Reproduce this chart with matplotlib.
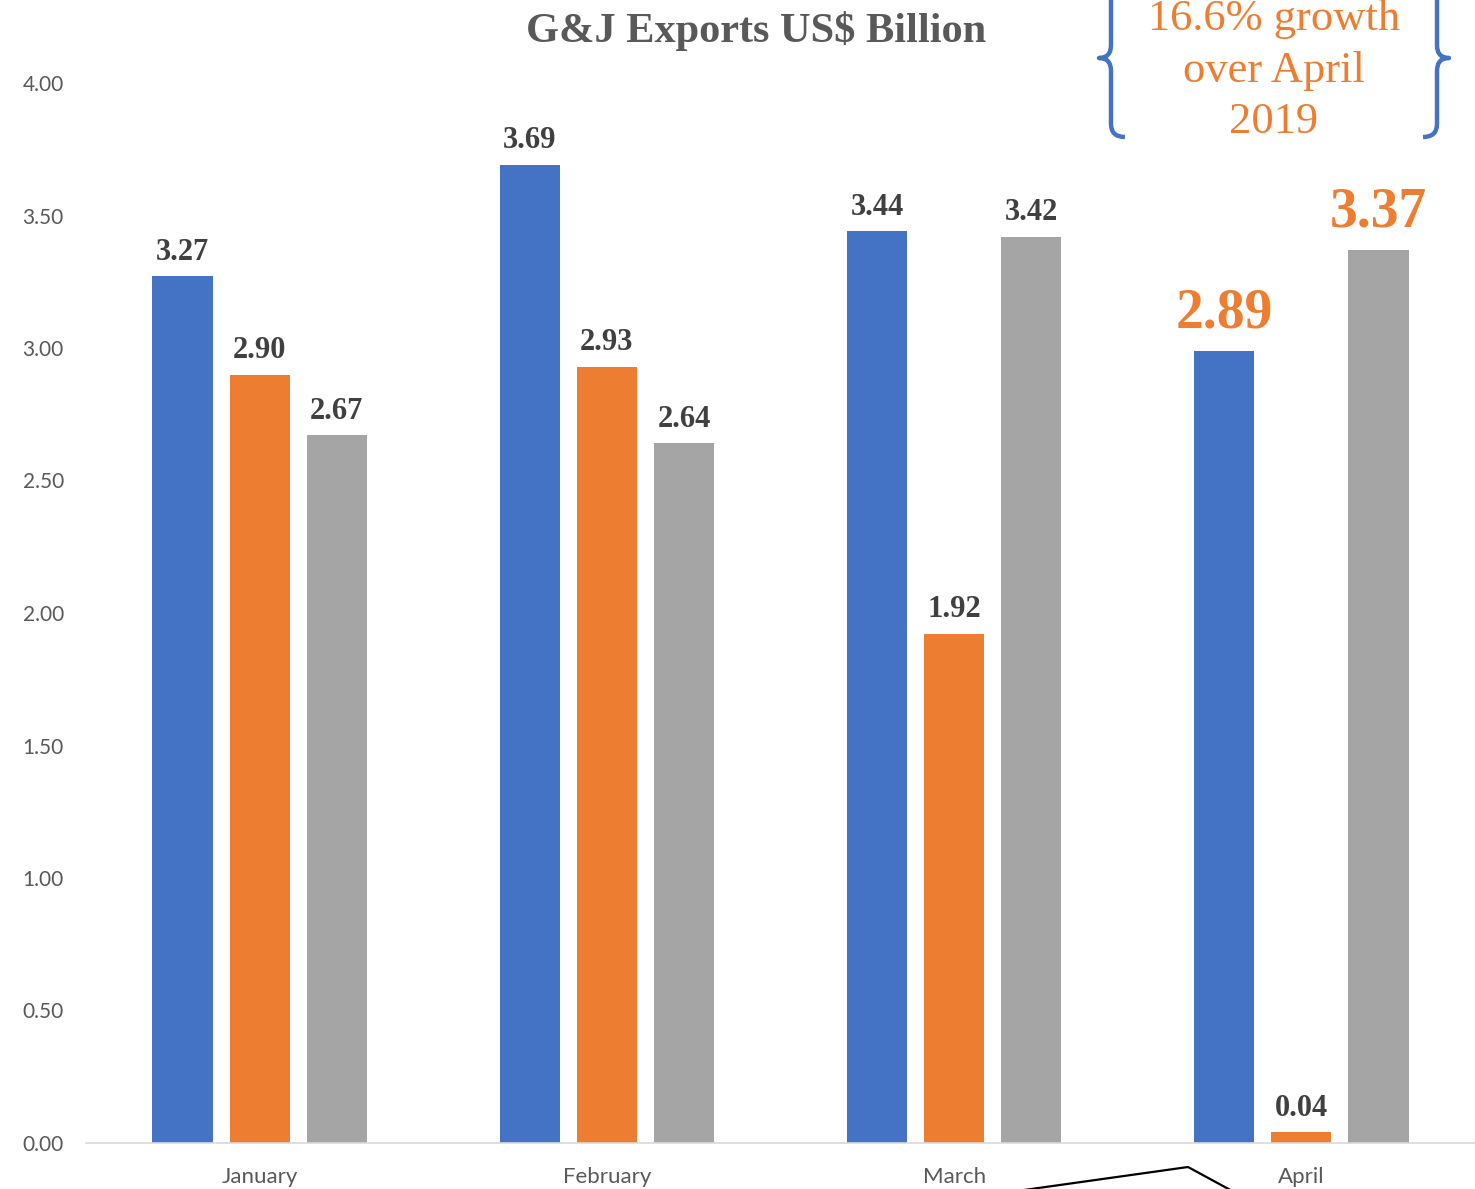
import numpy as np
import matplotlib
matplotlib.use("Agg")
import matplotlib.pyplot as plt
from matplotlib.path import Path
from matplotlib.patches import PathPatch

# data
months = ["January", "February", "March", "April"]
blue_vals = [3.27, 3.69, 3.44, 2.99]
orange_vals = [2.90, 2.93, 1.92, 0.04]
gray_vals = [2.67, 2.64, 3.42, 3.37]
blue_labels = ["3.27", "3.69", "3.44", "2.89"]
orange_labels = ["2.90", "2.93", "1.92", "0.04"]
gray_labels = ["2.67", "2.64", "3.42", "3.37"]
y_ticks = [0, 0.5, 1.0, 1.5, 2.0, 2.5, 3.0, 3.5, 4.0]
note_lines = ["16.6% growth", "over April", "2019"]

BLUE = "#4472C4"
ORANGE = "#ED7D31"
GRAY = "#A5A5A5"
LABEL = "#404040"
TICK = "#595959"
SERIF = "Liberation Serif"
SANS = "Lato"

W, H = 1475, 1189
fig = plt.figure(figsize=(W / 100, H / 100), dpi=100)
ax = fig.add_axes([86 / W, 1 - 1143 / H, (W - 86) / W, (1143 - 83) / H])

x = np.arange(len(months))
bw = 0.173
step = 0.222
series = [(blue_vals, blue_labels, BLUE, -step),
          (orange_vals, orange_labels, ORANGE, 0.0),
          (gray_vals, gray_labels, GRAY, step)]

for vals, labels, color, off in series:
    bars = ax.bar(x + off, vals, width=bw, color=color, zorder=2)
    for i, (b, lab) in enumerate(zip(bars, labels)):
        big = (i == 3 and color != ORANGE)
        ax.annotate(lab, (b.get_x() + b.get_width() / 2, b.get_height()),
                    xytext=(0, 8 if big else 7), textcoords="offset points",
                    ha="center", va="bottom",
                    fontsize=40 if big else 22, fontweight="bold",
                    family=SERIF, color=ORANGE if big else LABEL)

ax.set_xlim(-0.5, 3.5)
ax.set_ylim(0, 4)
ax.set_yticks(y_ticks)
ax.set_yticklabels([f"{v:.2f}" for v in y_ticks])
ax.set_xticks(x)
ax.set_xticklabels(months)
ax.tick_params(axis="both", length=0, labelcolor=TICK, labelsize=15)
ax.tick_params(axis="x", labelsize=16, pad=17)
ax.tick_params(axis="y", pad=16)
for t in ax.get_xticklabels() + ax.get_yticklabels():
    t.set_family(SANS)
for s in ["top", "right", "left"]:
    ax.spines[s].set_visible(False)
ax.spines["bottom"].set_color("#D9D9D9")
ax.spines["bottom"].set_linewidth(1.2)

fig.text(756 / W, 1 - 42 / H, "G&J Exports US$ Billion", ha="center",
         va="baseline", fontsize=30.5, fontweight="bold", family=SERIF,
         color=TICK)

# overlay in pixel coordinates for the note and callout
ov = fig.add_axes([0, 0, 1, 1], facecolor="none")
ov.set_xlim(0, W)
ov.set_ylim(H, 0)
ov.axis("off")

for line, yb in zip(note_lines, [30, 82, 133]):
    ov.text(1274, yb, line, ha="center", va="baseline", fontsize=32,
            family=SERIF, color=ORANGE)


def brace(xl, xt, xe, ymid, half, r=13):
    # xl: vertical line x, xt: tip x, xe: end hook x
    verts = [(xe, ymid - half), (xl, ymid - half), (xl, ymid - half + r),
             (xl, ymid - r), (xl, ymid), (xt, ymid),
             (xl, ymid), (xl, ymid + r),
             (xl, ymid + half - r), (xl, ymid + half), (xe, ymid + half)]
    codes = [Path.MOVETO, Path.CURVE3, Path.CURVE3,
             Path.LINETO, Path.CURVE3, Path.CURVE3,
             Path.CURVE3, Path.CURVE3,
             Path.LINETO, Path.CURVE3, Path.CURVE3]
    ov.add_patch(PathPatch(Path(verts, codes), fill=False, edgecolor=BLUE,
                           lw=3.2, capstyle="butt", joinstyle="round"))


brace(1111, 1099, 1125, 58, 79)
brace(1437, 1449, 1423, 58, 79)

ov.plot([1010, 1188, 1234], [1192, 1167, 1192], color="black", lw=1.6,
        clip_on=False)

fig.savefig("out.png", dpi=100)
